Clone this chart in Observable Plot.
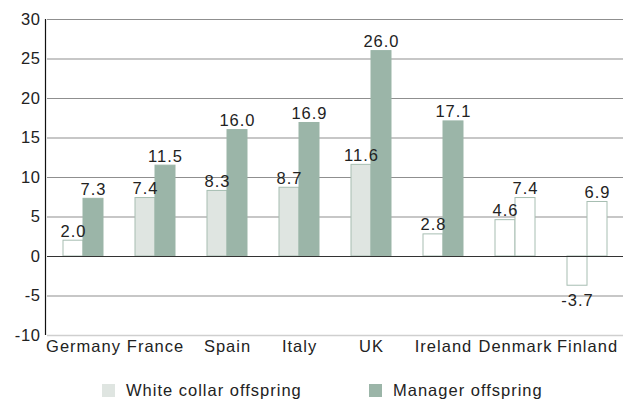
<!DOCTYPE html>
<html>
<head>
<meta charset="utf-8">
<script src="https://cdn.jsdelivr.net/npm/d3@7"></script>
<script src="https://cdn.jsdelivr.net/npm/@observablehq/plot@0.6"></script>
<style>
  html, body { margin: 0; padding: 0; background: #fff; }
  body { width: 630px; height: 407px; overflow: hidden; font-family: "Liberation Sans", Arial, Helvetica, sans-serif; }
  #chart svg text { letter-spacing: 1px; }
  #chart svg g[aria-label="y-axis tick label"] text { letter-spacing: 0.6px; }
  #legend { position: relative; height: 42px; font-size: 16.5px; color: #222; letter-spacing: 1px; }
  .item { position: absolute; top: 16px; display: flex; align-items: center; }
  .sw { width: 13px; height: 13px; margin-right: 11px; flex: none; }
  .lab { white-space: nowrap; }
</style>
</head>
<body>
<div id="chart"></div>
<div id="legend"></div>
<script>
const countries = ["Germany", "France", "Spain", "Italy", "UK", "Ireland", "Denmark", "Finland"];
const seriesNames = ["White collar offspring", "Manager offspring"];
const whiteCollar = [2.0, 7.4, 8.3, 8.7, 11.6, 2.8, 4.6, -3.7];
const manager = [7.3, 11.5, 16.0, 16.9, 26.0, 17.1, 7.4, 6.9];
const whiteCollarShaded = [false, true, true, true, true, false, false, false];
const managerShaded = [true, true, true, true, true, true, false, false];
const yTicks = [-10, -5, 0, 5, 10, 15, 20, 25, 30];

const colors = {"White collar offspring": "#dfe5e1", "Manager offspring": "#9bb5a8"};
const outline = "#a7beb2";

const rows = countries.flatMap((c, i) => [
  {country: c, series: seriesNames[0], value: whiteCollar[i], shaded: whiteCollarShaded[i]},
  {country: c, series: seriesNames[1], value: manager[i], shaded: managerShaded[i]}
]);

const FS = 16.5;
const chart = Plot.plot({
  width: 630,
  height: 365,
  marginLeft: 45,
  marginRight: 5,
  marginTop: 19,
  marginBottom: 30,
  style: {fontFamily: '"Liberation Sans", Arial, Helvetica, sans-serif', fontSize: FS + "px", color: "#222", background: "#fff"},
  fx: {domain: countries, padding: 0, label: null},
  x: {domain: seriesNames, paddingInner: 0, paddingOuter: 0.73, axis: null},
  y: {domain: [-10, 30], label: null},
  marks: [
    Plot.ruleY(yTicks.filter(t => t > 0 || t === -5), {stroke: "#8f8f8f", strokeWidth: 1}),
    Plot.ruleY([-10], {stroke: "#cfcfcf", strokeWidth: 1.5}),
    Plot.barY(rows, {
      fx: "country", x: "series", y: "value",
      fill: d => d.shaded ? colors[d.series] : "#ffffff",
      stroke: d => d.shaded && d.series === seriesNames[1] ? colors[d.series] : outline,
      strokeWidth: 1
    }),
    Plot.ruleY([0], {stroke: "#333", strokeWidth: 1.2}),
    Plot.text(rows.filter(d => d.value >= 0), {
      fx: "country", x: "series", y: "value", text: d => d.value.toFixed(1),
      dy: -4, lineAnchor: "bottom", fontSize: FS, fill: "#222"
    }),
    Plot.text(rows.filter(d => d.value < 0), {
      fx: "country", x: "series", y: "value", text: d => d.value.toFixed(1),
      dy: 9, lineAnchor: "top", fontSize: FS, fill: "#222"
    }),
    Plot.axisY(yTicks, {anchor: "left", tickSize: 0, tickPadding: 7, fontSize: FS, label: null, tickFormat: d => String(d)}),
    Plot.axisFx({anchor: "bottom", tickSize: 0, tickPadding: 5, fontSize: FS, label: null})
  ]
});
document.getElementById("chart").appendChild(chart);

// vertical axis line drawn from the library's y scale
const ys = chart.scale("y");
d3.select(chart).append("line")
  .attr("x1", 45.5).attr("x2", 45.5)
  .attr("y1", ys.apply(30)).attr("y2", ys.apply(-10))
  .attr("stroke", "#111").attr("stroke-width", 1.2);

// legend
const legend = d3.select("#legend");
const lx = [102, 369];
seriesNames.forEach((s, i) => {
  const it = legend.append("div").attr("class", "item").style("left", lx[i] + "px");
  it.append("div").attr("class", "sw").style("background", colors[s]);
  it.append("span").attr("class", "lab").text(s);
});
</script>
</body>
</html>
